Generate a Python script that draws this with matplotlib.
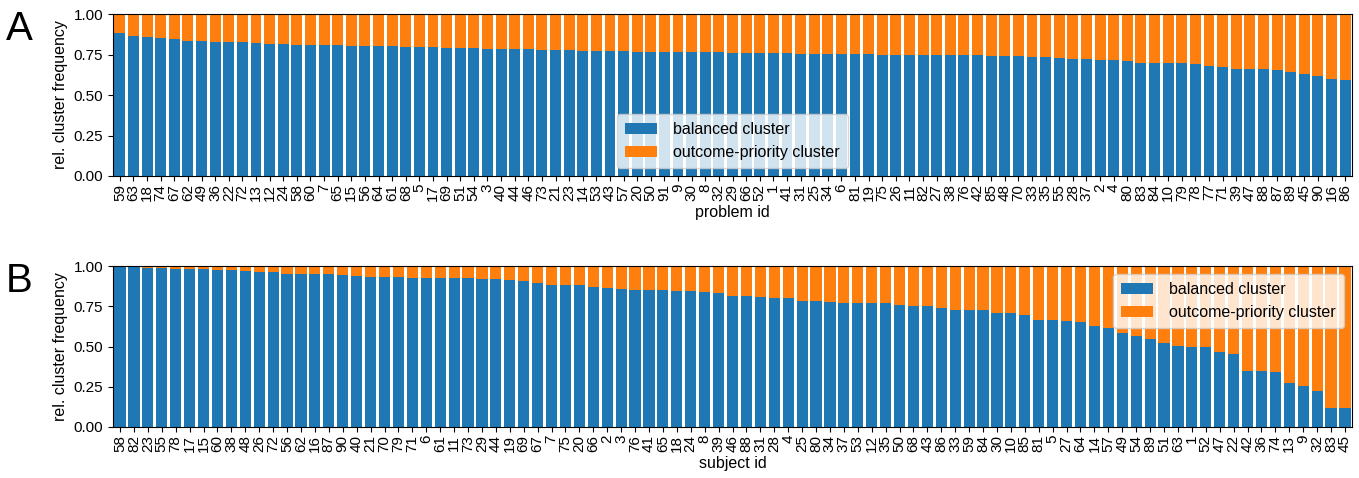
import numpy as np
import matplotlib
matplotlib.use('Agg')
import matplotlib.pyplot as plt

plt.rcParams['font.family'] = ['Liberation Sans', 'DejaVu Sans']

# ========== 資料 ==========
problem_ids = [59, 63, 18, 74, 67, 62, 49, 36, 22, 72, 13, 12, 24, 58, 60, 7, 65, 15, 56, 64,
               61, 68, 5, 17, 69, 51, 54, 3, 40, 44, 46, 73, 21, 23, 14, 53, 43, 57, 20, 50,
               91, 9, 30, 8, 32, 29, 66, 52, 1, 41, 31, 25, 34, 6, 81, 19, 75, 26, 11, 82,
               27, 38, 76, 42, 85, 48, 70, 33, 35, 55, 28, 37, 2, 4, 80, 83, 84, 10, 79, 78,
               77, 71, 39, 47, 88, 87, 89, 45, 90, 16, 86]
problem_balanced = [0.884, 0.863, 0.857, 0.851, 0.847, 0.834, 0.834, 0.828, 0.828, 0.828,
                    0.822, 0.816, 0.816, 0.809, 0.809, 0.809, 0.807, 0.805, 0.803, 0.801,
                    0.801, 0.797, 0.797, 0.795, 0.793, 0.789, 0.789, 0.787, 0.787, 0.785,
                    0.783, 0.779, 0.777, 0.777, 0.772, 0.772, 0.772, 0.771, 0.768, 0.766,
                    0.766, 0.765, 0.764, 0.764, 0.764, 0.762, 0.760, 0.760, 0.758, 0.758,
                    0.756, 0.754, 0.754, 0.754, 0.752, 0.752, 0.750, 0.750, 0.746, 0.746,
                    0.746, 0.746, 0.746, 0.744, 0.742, 0.740, 0.740, 0.737, 0.737, 0.727,
                    0.722, 0.722, 0.717, 0.713, 0.707, 0.700, 0.696, 0.696, 0.696, 0.691,
                    0.677, 0.675, 0.663, 0.663, 0.659, 0.652, 0.642, 0.631, 0.615, 0.600,
                    0.595]

subject_ids = [58, 82, 23, 55, 78, 17, 15, 60, 38, 48, 26, 72, 56, 62, 16, 87, 90, 40, 21, 70,
               79, 71, 6, 61, 11, 73, 29, 44, 19, 69, 67, 7, 75, 20, 66, 2, 3, 76, 41, 65,
               18, 24, 8, 39, 46, 88, 31, 28, 4, 25, 80, 34, 37, 53, 12, 35, 50, 68, 43, 86,
               33, 59, 84, 30, 10, 85, 81, 5, 27, 64, 14, 57, 49, 54, 89, 51, 63, 1, 52, 47,
               22, 42, 36, 74, 13, 9, 32, 83, 45]
subject_balanced = [1.0, 0.994, 0.988, 0.988, 0.983, 0.983, 0.979, 0.973, 0.973, 0.969,
                    0.963, 0.963, 0.952, 0.948, 0.948, 0.948, 0.946, 0.935, 0.931, 0.931,
                    0.931, 0.925, 0.925, 0.925, 0.925, 0.925, 0.921, 0.921, 0.915, 0.906,
                    0.894, 0.885, 0.885, 0.885, 0.869, 0.863, 0.858, 0.854, 0.854, 0.854,
                    0.844, 0.844, 0.838, 0.833, 0.813, 0.813, 0.806, 0.800, 0.800, 0.785,
                    0.783, 0.775, 0.773, 0.769, 0.769, 0.769, 0.756, 0.750, 0.750, 0.740,
                    0.725, 0.725, 0.725, 0.706, 0.706, 0.696, 0.667, 0.665, 0.658, 0.650,
                    0.625, 0.613, 0.585, 0.567, 0.546, 0.523, 0.506, 0.498, 0.496, 0.463,
                    0.452, 0.348, 0.348, 0.342, 0.271, 0.252, 0.225, 0.119, 0.119]

panels = [
    ('A', problem_ids, problem_balanced, 'problem id', 'lower center'),
    ('B', subject_ids, subject_balanced, 'subject id', 'upper right'),
]

fig = plt.figure(figsize=(13.59, 4.78), dpi=100)
boxes = [[0.0832, 0.6318, 0.9116, 0.3389], [0.0832, 0.1067, 0.9116, 0.3368]]

for (letter, ids, bal, xlab, loc), box in zip(panels, boxes):
    ax = fig.add_axes(box)
    bal = np.array(bal)
    x = np.arange(len(ids))
    ax.bar(x, bal, width=0.8, color='#1f77b4', label='balanced cluster')
    ax.bar(x, 1 - bal, bottom=bal, width=0.8, color='#ff7f0e', label='outcome-priority cluster')
    ax.set_xticks(x)
    ax.set_xticklabels([str(i) for i in ids], rotation=90, fontsize=11)
    ax.set_xlim(-0.5, len(ids) - 0.5)
    ax.set_ylim(0, 1)
    ax.set_yticks([0, 0.25, 0.5, 0.75, 1.0])
    ax.set_yticklabels(['0.00', '0.25', '0.50', '0.75', '1.00'], fontsize=11)
    ax.tick_params(axis='x', pad=2)
    ax.set_xlabel(xlab, fontsize=11.5, labelpad=3)
    ax.set_ylabel('rel. cluster frequency', fontsize=11.5)
    ax.legend(loc=loc, fontsize=11.5, borderpad=0.5, handletextpad=1.0)
    fig.text(0.004, box[1] + box[3] + 0.008, letter, fontsize=29, va='top', ha='left')

fig.savefig('out.png', dpi=100)
